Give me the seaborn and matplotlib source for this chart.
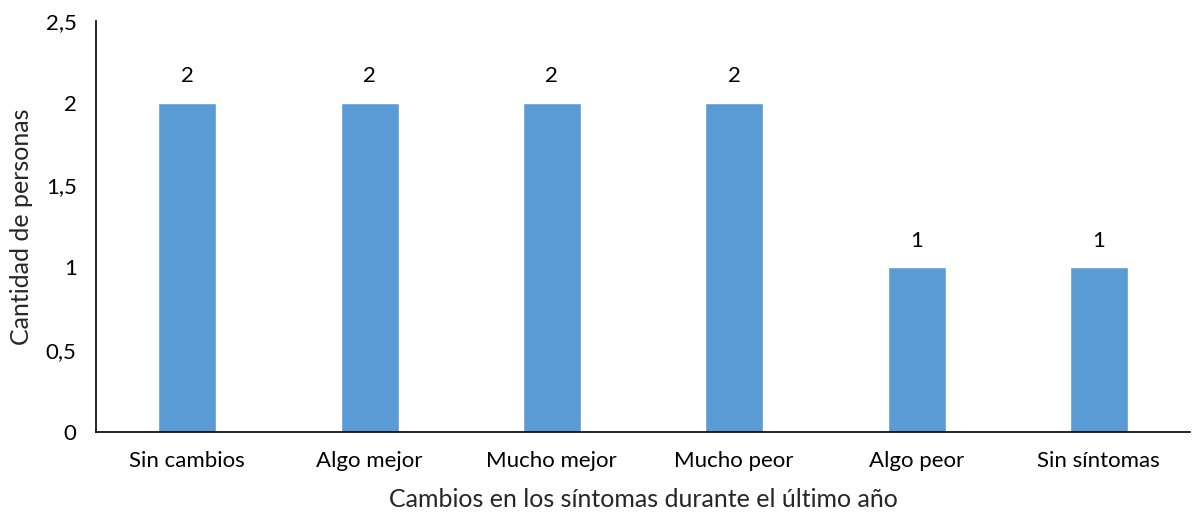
import matplotlib
matplotlib.use("Agg")
import matplotlib.pyplot as plt
import seaborn as sns
import pandas as pd

categories = ['Sin cambios', 'Algo mejor', 'Mucho mejor', 'Mucho peor', 'Algo peor', 'Sin síntomas']
counts = [2, 2, 2, 2, 1, 1]
y_ticks = [0, 0.5, 1, 1.5, 2, 2.5]
y_tick_labels = ['0', '0,5', '1', '1,5', '2', '2,5']

df = pd.DataFrame({'cambio': categories, 'personas': counts})

sns.set_theme(style="white")
plt.rcParams['font.family'] = ['Lato', 'DejaVu Sans']

fig = plt.figure(figsize=(11.93, 5.16), dpi=100)
ax = fig.add_axes([0.0805, 0.163, 0.917, 0.797])

sns.barplot(x='cambio', y='personas', data=df, color='#5B9BD5', width=0.318,
            saturation=1, ax=ax)

# bar labels
for cont in ax.containers:
    ax.bar_label(cont, fmt='%g', padding=12, fontsize=16, color='black')

# axes
ax.set_ylim(0, 2.5)
ax.set_xlim(-0.5, 5.5)
ax.set_yticks(y_ticks)
ax.set_yticklabels(y_tick_labels)
ax.tick_params(axis='both', labelsize=16, colors='black', length=0)
ax.tick_params(axis='x', pad=14)
ax.tick_params(axis='y', pad=14)
ax.set_xlabel('Cambios en los síntomas durante el último año', fontsize=18, labelpad=12)
ax.set_ylabel('Cantidad de personas', fontsize=18, labelpad=9)

sns.despine(ax=ax)
for side in ['left', 'bottom']:
    ax.spines[side].set_color('black')
    ax.spines[side].set_linewidth(1.2)

fig.savefig('out.png', dpi=100)
